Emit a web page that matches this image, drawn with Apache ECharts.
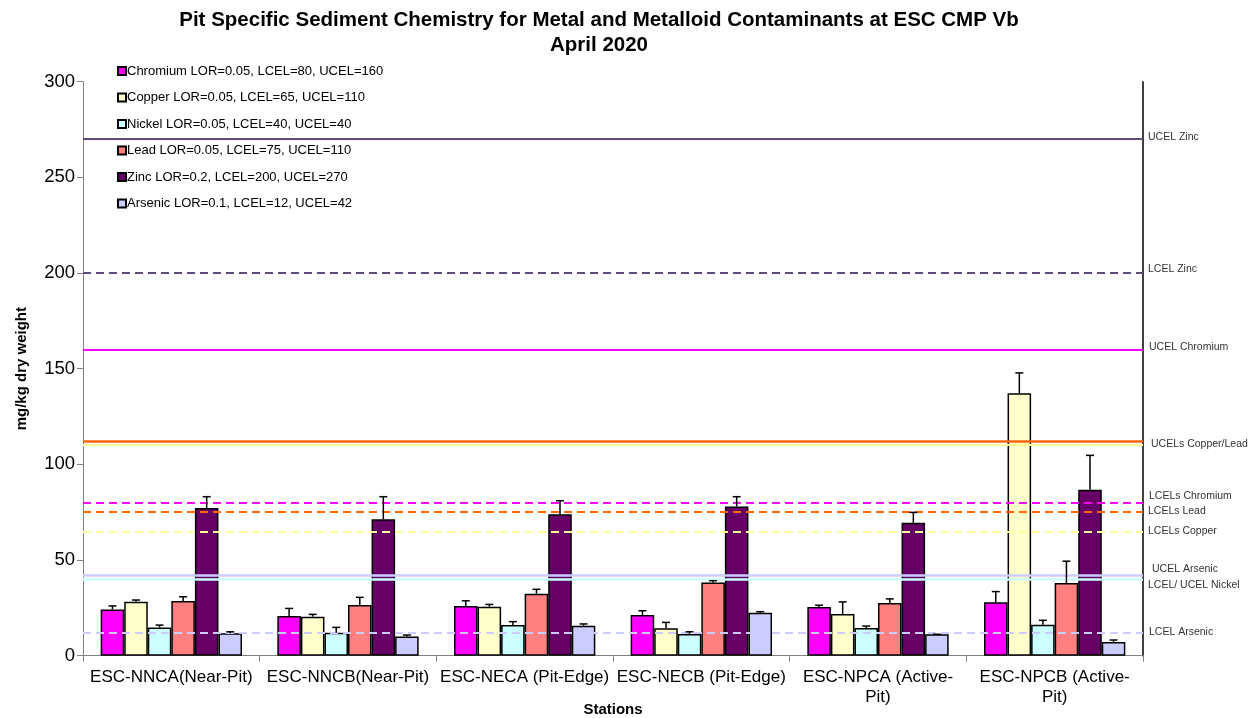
<!DOCTYPE html>
<html>
<head>
<meta charset="utf-8">
<script src="https://cdn.jsdelivr.net/npm/echarts@6/dist/echarts.min.js"></script>
<style>html,body{margin:0;padding:0;background:#fff;}#chart{width:1258px;height:718px;}</style>
</head>
<body>
<div id="chart"></div>
<script>
// ---- data ----
var stations = ['ESC-NNCA(Near-Pit)', 'ESC-NNCB(Near-Pit)', 'ESC-NECA (Pit-Edge)', 'ESC-NECB (Pit-Edge)', 'ESC-NPCA (Active-Pit)', 'ESC-NPCB (Active-Pit)'];
var seriesNames = ['Chromium LOR=0.05, LCEL=80, UCEL=160', 'Copper LOR=0.05, LCEL=65, UCEL=110', 'Nickel LOR=0.05, LCEL=40, UCEL=40', 'Lead LOR=0.05, LCEL=75, UCEL=110', 'Zinc LOR=0.2, LCEL=200, UCEL=270', 'Arsenic LOR=0.1, LCEL=12, UCEL=42'];
var chromium = [24.2, 20.7, 26.0, 21.3, 25.5, 27.9];
var copper   = [28.2, 20.4, 25.6, 14.3, 21.8, 137.2];
var nickel   = [14.8, 12.0, 16.0, 11.3, 14.5, 16.2];
var lead     = [28.6, 26.5, 32.4, 38.2, 27.6, 38.0];
var zinc     = [77.2, 71.3, 73.9, 78.0, 69.5, 86.7];
var arsenic  = [11.7, 10.1, 15.7, 22.5, 11.2, 7.2];
// upper end of error bars
var chromiumErr = [26.0, 24.7, 28.7, 23.5, 26.4, 33.5];
var copperErr   = [29.1, 21.6, 26.8, 17.4, 28.1, 147.8];
var nickelErr   = [16.0, 14.8, 17.8, 12.5, 15.5, 18.5];
var leadErr     = [30.8, 30.5, 34.7, 39.2, 29.7, 49.4];
var zincErr     = [83.1, 83.1, 81.0, 83.1, 74.9, 104.7];
var arsenicErr  = [12.5, 10.8, 16.6, 23.0, 11.2, 8.2];
var yTicks = [0, 50, 100, 150, 200, 250, 300];
// guideline values
var guideValues = [270, 200, 160, 112, 110, 80, 75, 65, 42, 40, 12];
// guideline text labels and the value level each label sits at
var guideLabels   = ['UCEL Zinc', 'LCEL Zinc', 'UCEL Chromium', 'UCELs Copper/Lead', 'LCELs Chromium', 'LCELs Lead', 'LCELs Copper', 'UCEL Arsenic', 'LCEL/ UCEL Nickel', 'LCEL Arsenic'];
var guideLabelAt  = [271.0, 202.0, 161.2, 110.7, 83.5, 75.8, 65.3, 45.2, 37.0, 12.5];

// ---- styles ----
var barColors = ['#ff00ff', '#ffffcc', '#ccffff', '#ff8080', '#660066', '#ccccff'];
var values = [chromium, copper, nickel, lead, zinc, arsenic];
var errs = [chromiumErr, copperErr, nickelErr, leadErr, zincErr, arsenicErr];
var guideStyle = [
  {color: '#604a7b', type: 'solid', width: 2},
  {color: '#604a7b', type: [8, 5], width: 2},
  {color: '#ff00ff', type: 'solid', width: 2},
  {color: '#ff6600', type: 'solid', width: 2.5},
  {color: '#ffff99', type: 'solid', width: 2},
  {color: '#ff00ff', type: [8, 5], width: 2},
  {color: '#ff6600', type: [8, 5], width: 2},
  {color: '#ffff99', type: [8, 5], width: 2},
  {color: '#ccccff', type: 'solid', width: 2.5},
  {color: '#ccffff', type: 'solid', width: 2.5},
  {color: '#ccccff', type: [8, 5], width: 2}
];
var labelDx = [5, 5, 6, 8, 6, 5, 5, 9, 5, 6];
var FONT = '"Liberation Sans", Arial, sans-serif';

var markData = guideValues.map(function (v, i) {
  var s = guideStyle[i];
  return {yAxis: v, lineStyle: {color: s.color, type: s.type, width: s.width}, label: {show: false}};
});

var series = [];
seriesNames.forEach(function (name, i) {
  series.push({
    name: name, type: 'bar', data: values[i], barGap: '0%', barCategoryGap: '20%', z: 2,
    itemStyle: {color: barColors[i], borderColor: '#000', borderWidth: 1.5}
  });
});
seriesNames.forEach(function (name, i) {
  series.push({
    type: 'custom', z: 6, silent: true,
    data: stations.map(function (s, k) { return [k, values[i][k], errs[i][k]]; }),
    encode: {x: 0, y: [1, 2]},
    renderItem: function (params, api) {
      var k = api.value(0);
      var base = api.coord([k, api.value(1)]);
      var top = api.coord([k, api.value(2)]);
      var band = api.size([1, 0])[0];
      var bw = band * 0.8 / 6;
      var x = base[0] - band * 0.4 + bw * (i + 0.5);
      return {type: 'group', children: [
        {type: 'line', shape: {x1: x, y1: base[1], x2: x, y2: top[1]}, style: {stroke: '#000', lineWidth: 1.5}},
        {type: 'line', shape: {x1: x - 4, y1: top[1], x2: x + 4, y2: top[1]}, style: {stroke: '#000', lineWidth: 1.5}}
      ]};
    }
  });
});
series.push({
  type: 'line', data: [], z: 5, silent: true,
  markLine: {symbol: 'none', silent: true, animation: false, data: markData}
});

var chart = echarts.init(document.getElementById('chart'));
chart.setOption({
  animation: false,
  backgroundColor: '#fff',
  title: {
    text: 'Pit Specific Sediment Chemistry for Metal and Metalloid Contaminants at ESC CMP Vb\nApril 2020',
    left: 594, top: 2.5, textAlign: 'center',
    textStyle: {fontFamily: FONT, fontSize: 20.5, fontWeight: 'bold', color: '#000', lineHeight: 25}
  },
  legend: {
    data: seriesNames, orient: 'vertical', left: 112, top: 59,
    itemWidth: 8, itemHeight: 8, itemGap: 12.5, icon: 'rect',
    textStyle: {fontFamily: FONT, fontSize: 13, color: '#000', lineHeight: 14, padding: [0, 0, 0, -4]}
  },
  grid: {left: 83, right: 115, top: 81.7, bottom: 62.3, containLabel: false, outerBoundsMode: 'none'},
  xAxis: {
    type: 'category', data: stations,
    name: 'Stations', nameLocation: 'middle', nameGap: 47, nameMoveOverlap: false,
    nameTextStyle: {fontFamily: FONT, fontSize: 15, fontWeight: 'bold', color: '#000'},
    axisLine: {lineStyle: {color: '#808080', width: 1}},
    axisTick: {show: true, length: 6, lineStyle: {color: '#808080'}},
    axisLabel: {
      fontFamily: FONT, fontSize: 17, color: '#000', margin: 12, lineHeight: 20, interval: 0,
      formatter: function (v) { return v.replace('(Active-', '(Active-\n'); }
    }
  },
  yAxis: [{
    type: 'value', min: yTicks[0], max: yTicks[yTicks.length - 1], interval: 50,
    name: 'mg/kg dry weight', nameLocation: 'middle', nameGap: 54, nameMoveOverlap: false,
    nameTextStyle: {fontFamily: FONT, fontSize: 15, fontWeight: 'bold', color: '#000'},
    axisLine: {show: true, lineStyle: {color: '#808080', width: 1}},
    axisTick: {show: true, length: 6, lineStyle: {color: '#808080'}},
    axisLabel: {fontFamily: FONT, fontSize: 18.5, color: '#000', margin: 8},
    splitLine: {show: false}
  }, {
    type: 'value', min: 0, max: 300, interval: 50, position: 'right',
    axisLine: {show: true, lineStyle: {color: '#000', width: 1.5}},
    axisTick: {show: false}, axisLabel: {show: false}, splitLine: {show: false}
  }],
  series: series
});

// guideline labels, placed through the value axis scale at the right edge of the plot
var rightEdge = chart.convertToPixel({xAxisIndex: 0}, stations.length - 1) +
  (chart.convertToPixel({xAxisIndex: 0}, 1) - chart.convertToPixel({xAxisIndex: 0}, 0)) / 2;
chart.setOption({
  graphic: guideLabels.map(function (t, i) {
    return {
      type: 'text', silent: true, z: 10,
      x: rightEdge + labelDx[i],
      y: chart.convertToPixel({yAxisIndex: 0}, guideLabelAt[i]),
      style: {text: t, fill: '#333', font: '10.5px ' + FONT, textAlign: 'left', textVerticalAlign: 'middle'}
    };
  })
});
</script>
</body>
</html>
